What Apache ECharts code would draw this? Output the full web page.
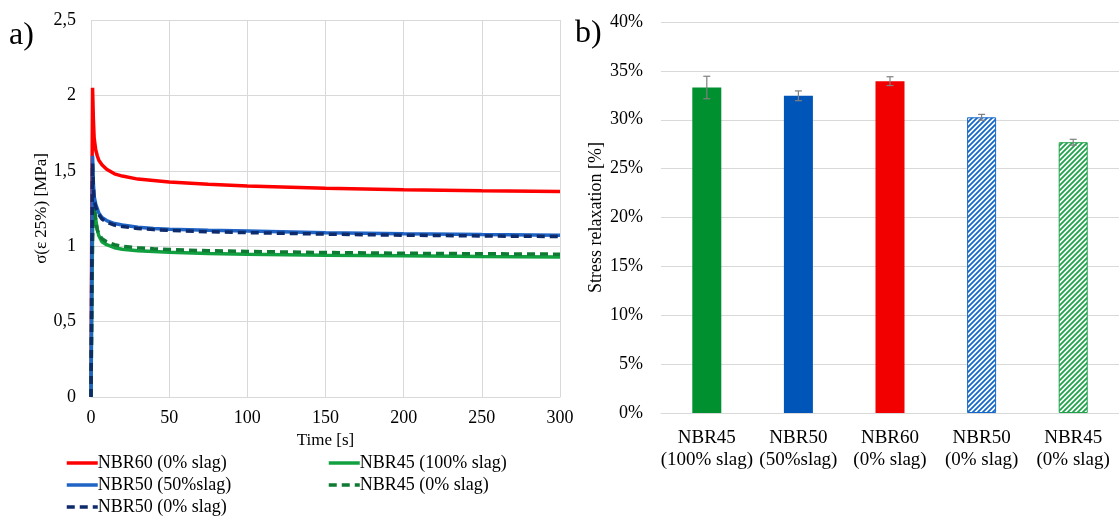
<!DOCTYPE html>
<html>
<head>
<meta charset="utf-8">
<script src="https://cdn.jsdelivr.net/npm/echarts@6/dist/echarts.min.js"></script>
<style>html,body{margin:0;padding:0;background:#fff}#c{width:1119px;height:532px}</style>
</head>
<body>
<div id="c"></div>
<script>
// ---- Panel a data ----
const times = [0, 0.5, 1, 1.5, 2, 3, 4, 5, 7, 10, 15, 20, 30, 40, 50, 75, 100, 150, 200, 250, 300];
const nbr60_0 = [0, 1.20, 2.05, 1.85, 1.72, 1.64, 1.60, 1.57, 1.54, 1.51, 1.48, 1.465, 1.445, 1.435, 1.425, 1.41, 1.40, 1.385, 1.375, 1.368, 1.362];
const nbr50_50 = [0, 0.90, 1.60, 1.42, 1.33, 1.28, 1.25, 1.22, 1.19, 1.17, 1.15, 1.14, 1.125, 1.118, 1.113, 1.105, 1.10, 1.09, 1.083, 1.077, 1.072];
const nbr50_0 = [0, 0.85, 1.55, 1.40, 1.31, 1.26, 1.23, 1.21, 1.18, 1.16, 1.14, 1.13, 1.118, 1.11, 1.105, 1.096, 1.09, 1.08, 1.073, 1.068, 1.064];
const nbr45_100 = [0, 0.60, 1.10, 1.25, 1.30, 1.18, 1.11, 1.07, 1.03, 1.01, 0.99, 0.98, 0.97, 0.965, 0.96, 0.952, 0.947, 0.94, 0.936, 0.932, 0.929];
const nbr45_0 = [0, 0.55, 1.05, 1.20, 1.26, 1.17, 1.11, 1.08, 1.05, 1.03, 1.01, 1.00, 0.99, 0.983, 0.978, 0.97, 0.965, 0.958, 0.953, 0.95, 0.947];
const lineNames = ['NBR60 (0% slag)', 'NBR45 (100% slag)', 'NBR50 (50%slag)', 'NBR45 (0% slag)', 'NBR50 (0% slag)'];
const yTicksA = ['0', '0,5', '1', '1,5', '2', '2,5'];

// ---- Panel b data ----
const barCats = ['NBR45\n(100% slag)', 'NBR50\n(50%slag)', 'NBR60\n(0% slag)', 'NBR50\n(0% slag)', 'NBR45\n(0% slag)'];
const barVals = [33.3, 32.45, 33.95, 30.25, 27.7];
const barErr = [1.15, 0.5, 0.45, 0.3, 0.3];

const F = 'Liberation Serif, Times New Roman, serif';
const txt = '#000';
const gridCol = '#d9d9d9';

function stripes(color) {
  const s = 5;
  const c = document.createElement('canvas');
  c.width = s; c.height = s;
  const g = c.getContext('2d');
  g.fillStyle = '#fff'; g.fillRect(0, 0, s, s);
  g.strokeStyle = color; g.lineWidth = 1.8;
  g.beginPath();
  g.moveTo(-1, s + 1); g.lineTo(s + 1, -1);
  g.moveTo(-1, 1); g.lineTo(1, -1);
  g.moveTo(s - 1, s + 1); g.lineTo(s + 1, s - 1);
  g.stroke();
  return c;
}

const pair = arr => times.map((t, i) => [t, arr[i]]);
// series order follows the reference legend order (last drawn on top)
const lineData = [nbr60_0, nbr45_100, nbr50_50, nbr45_0, nbr50_0];
const lineColors = ['#ff0000', '#11a040', '#1f63c4', '#0f7a33', '#0d2a6b'];
const dashed = [false, false, false, true, true];

const lineSeries = lineData.map((d, k) => ({
  name: lineNames[k], type: 'line', xAxisIndex: 0, yAxisIndex: 0,
  data: pair(d), showSymbol: false, symbol: 'none', smooth: false,
  color: lineColors[k],
  lineStyle: { color: lineColors[k], width: 3.5, type: dashed[k] ? [8, 5] : 'solid' },
  z: 3, animation: false
}));

const barColors = ['#00902f', '#0055b8', '#f20000', '#1568c8', '#1ea24a'];
const hatched = [false, false, false, true, true];

const legendCommon = {
  orient: 'vertical', top: 449, itemWidth: 31, itemHeight: 14, itemGap: 4,
  itemStyle: { opacity: 0 },
  lineStyle: { width: 3.5 },
  textStyle: { fontFamily: F, fontSize: 18, color: txt, padding: [0, 0, 0, -5] }
};

const chart = echarts.init(document.getElementById('c'), null, { renderer: 'canvas' });
chart.setOption({
  animation: false,
  backgroundColor: '#fff',
  textStyle: { fontFamily: F, color: txt },
  grid: [
    { left: 91, top: 20, width: 469, height: 377 },
    { left: 661, top: 22, width: 467.5, height: 391 }
  ],
  legend: [
    Object.assign({ data: [lineNames[0], lineNames[2], lineNames[4]], left: 60 }, legendCommon),
    Object.assign({ data: [lineNames[1], lineNames[3]], left: 322 }, legendCommon)
  ],
  xAxis: [
    { type: 'value', gridIndex: 0, min: 0, max: 300, interval: 50,
      name: 'Time [s]', nameLocation: 'middle', nameGap: 33,
      nameTextStyle: { fontFamily: F, fontSize: 17, color: txt },
      axisLine: { show: true, lineStyle: { color: gridCol } }, axisTick: { show: false },
      axisLabel: { fontFamily: F, fontSize: 18, color: txt, margin: 12 },
      splitLine: { show: true, lineStyle: { color: gridCol } } },
    { type: 'category', gridIndex: 1, data: barCats,
      axisLine: { show: true, lineStyle: { color: gridCol } }, axisTick: { show: false },
      axisLabel: { fontFamily: F, fontSize: 19, color: txt, lineHeight: 22, margin: 14, interval: 0 } }
  ],
  yAxis: [
    { type: 'value', gridIndex: 0, min: 0, max: 2.5, interval: 0.5,
      name: 'σ(ε 25%) [MPa]', nameLocation: 'middle', nameGap: 30, nameRotate: 90,
      nameTextStyle: { fontFamily: F, fontSize: 17, color: txt },
      axisLine: { show: false }, axisTick: { show: false },
      axisLabel: { fontFamily: F, fontSize: 18, color: txt, margin: 15,
        formatter: v => yTicksA[Math.round(v / 0.5)] },
      splitLine: { show: true, lineStyle: { color: gridCol } } },
    { type: 'value', gridIndex: 1, min: 0, max: 40, interval: 5,
      name: 'Stress relaxation [%]', nameLocation: 'middle', nameGap: 56, nameRotate: 90,
      nameTextStyle: { fontFamily: F, fontSize: 18, color: txt },
      axisLine: { show: false }, axisTick: { show: false },
      axisLabel: { fontFamily: F, fontSize: 18, color: txt, margin: 18, formatter: v => v + '%' },
      splitLine: { show: true, lineStyle: { color: gridCol } } }
  ],
  graphic: [
    { type: 'text', left: 9, top: 20, style: { text: 'a)', font: '32px ' + F, fill: txt } },
    { type: 'text', left: 575, top: 18, style: { text: 'b)', font: '32px ' + F, fill: txt } }
  ],
  series: lineSeries.concat([
    { type: 'bar', xAxisIndex: 1, yAxisIndex: 1, barWidth: 29,
      data: barVals.map((v, i) => ({
        value: v,
        itemStyle: hatched[i]
          ? { color: { image: stripes(barColors[i]), repeat: 'repeat' }, borderColor: barColors[i], borderWidth: 1 }
          : { color: barColors[i] }
      })) },
    { type: 'custom', xAxisIndex: 1, yAxisIndex: 1, z: 5,
      data: barVals.map((v, i) => [i, v - barErr[i], v + barErr[i]]),
      renderItem: (params, api) => {
        const lo = api.coord([api.value(0), api.value(1)]);
        const hi = api.coord([api.value(0), api.value(2)]);
        const w = 3.5;
        const st = { stroke: '#808080', lineWidth: 1.2 };
        return { type: 'group', children: [
          { type: 'line', shape: { x1: hi[0], y1: hi[1], x2: lo[0], y2: lo[1] }, style: st },
          { type: 'line', shape: { x1: hi[0] - w, y1: hi[1], x2: hi[0] + w, y2: hi[1] }, style: st },
          { type: 'line', shape: { x1: lo[0] - w, y1: lo[1], x2: lo[0] + w, y2: lo[1] }, style: st }
        ] };
      } }
  ])
});
</script>
</body>
</html>
